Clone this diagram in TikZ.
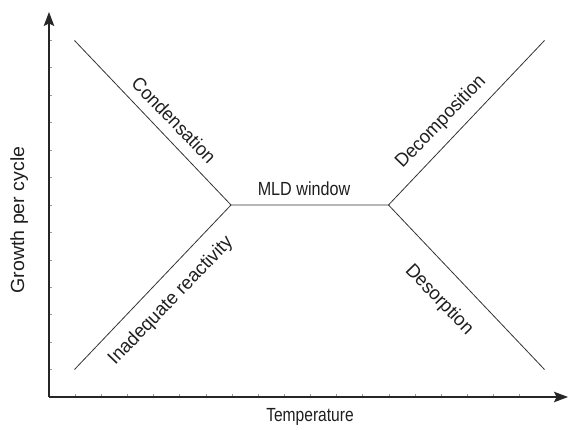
\documentclass[tikz,border=0pt]{standalone}
\usepackage{fontspec}
\usepackage{graphicx}
\setmainfont{Liberation Sans}
\usetikzlibrary{arrows.meta}
\newcommand{\hsq}[2]{\scalebox{#1}[1]{#2}}
\begin{document}
\begin{tikzpicture}[x=1pt,y=-1pt,
  axis/.style={line width=1.3pt,black!85,-{Stealth[length=14pt,width=10.5pt,inset=2.5pt]}},
  curve/.style={line width=0.8pt,black!80},
  tickmark/.style={line width=0.5pt,black!40},
  lbl/.style={inner sep=0pt,font=\fontsize{19}{22}\selectfont,text=black!88}]
\useasboundingbox (0,0) rectangle (568,430);
\coordinate (o) at (49,397);
\coordinate (ytip) at (49,12);
\coordinate (xtip) at (568,397);
\coordinate (tl) at (74.5,40.5);
\coordinate (bl) at (74.5,369.5);
\coordinate (jl) at (231,205);
\coordinate (jr) at (388.5,205);
\coordinate (tr) at (544.5,40.5);
\coordinate (br) at (544.5,369.5);
% ticks
\foreach \k in {1,...,13} \draw[tickmark] (49,397-\k*27.44) -- ++(2.5,0);
\foreach \k in {1,...,18} \draw[tickmark] (49+\k*26.14,397) -- ++(0,-2.5);
% axes
\draw[axis] (o) -- (ytip);
\draw[axis] (o) -- (xtip);
% curve
\draw[curve] (tl) -- (jl) -- (jr) -- (tr);
\draw[curve] (bl) -- (jl);
\draw[curve] (jr) -- (br);
% labels
\node[lbl,rotate=-46] (cond) at (174,120) {\hsq{0.95}{Condensation}};
\node[lbl,rotate=46] (decomp) at (441,122) {\hsq{0.96}{Decomposition}};
\node[lbl,rotate=46] (inad) at (171,301) {\hsq{0.97}{Inadequate reactivity}};
\node[lbl,rotate=-46] (desorp) at (439,300) {\hsq{0.97}{Desorption}};
\node[lbl,anchor=base] (mld) at (304,196) {\hsq{0.85}{MLD window}};
\node[lbl,anchor=base] (temp) at (310,421) {\hsq{0.82}{Temperature}};
\node[lbl,rotate=90,anchor=base] (growth) at (24,220) {\hsq{1.03}{Growth per cycle}};
\end{tikzpicture}
\end{document}
